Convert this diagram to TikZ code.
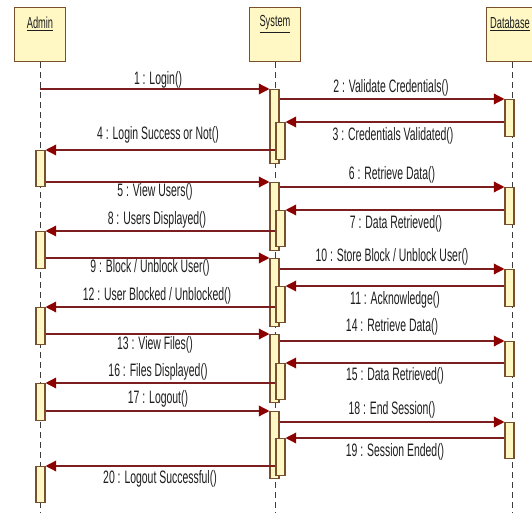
\documentclass[tikz,border=0pt]{standalone}
\usepackage{fontspec}
\setmainfont{Liberation Sans}[FakeStretch=0.58]
\usetikzlibrary{arrows.meta}
\definecolor{boxfill}{RGB}{255,248,196}
\definecolor{boxdraw}{RGB}{120,80,45}
\definecolor{msgc}{RGB}{125,30,30}
\definecolor{headc}{RGB}{140,0,0}
\definecolor{lifec}{RGB}{60,60,60}
\definecolor{txtc}{RGB}{30,30,30}
\begin{document}
\begin{tikzpicture}[x=0.75pt,y=-0.75pt,
  headbox/.style={draw=boxdraw,fill=boxfill,line width=1pt,minimum width=51*0.75pt,minimum height=54*0.75pt,anchor=north,inner sep=0pt},
  headtxt/.style={font=\fontsize{12}{14}\selectfont,text=txtc,inner sep=0pt},
  life/.style={draw=lifec,line width=0.6pt,dash pattern=on 4.5pt off 3pt},
  actbox/.style={draw=boxdraw,fill=boxfill,line width=0.8pt,minimum width=9*0.75pt,anchor=north,inner sep=0pt},
  msg/.style={draw=msgc,line width=1pt,-{Triangle[length=8pt,width=8pt,fill=headc,color=headc]}},
  lbl/.style={font=\fontsize{13.5}{15}\selectfont,text=txtc,inner sep=0pt}]
\useasboundingbox (0,0) rectangle (532,513);
\clip (0,0) rectangle (532,513);
\fill[white] (0,0) rectangle (532,513);
% heads
\node[headbox] (admin) at (40,7) {};
\node[headbox] (system) at (275,7) {};
\node[headbox] (db) at (512,7) {};
\node[headtxt] at (40,24) {\underline{Admin}};
\node[headtxt] at (275,24) {\underline{System}};
\node[headtxt] at (510,24) {\underline{Database}};
% lifelines
\coordinate (adminend) at (40,513);
\coordinate (sysend) at (275.5,513);
\coordinate (dbend) at (512,513);
\draw[life] (admin.south) -- (adminend);
\draw[life] ([xshift=0.5*0.75pt]system.south) -- (sysend);
\draw[life] (db.south) -- (dbend);
% activations Admin
\node[actbox,minimum height=36*0.75pt] (A1) at (40.5,150) {};
\node[actbox,minimum height=37*0.75pt] (A2) at (40.5,231) {};
\node[actbox,minimum height=37*0.75pt] (A3) at (40.5,307) {};
\node[actbox,minimum height=37*0.75pt] (A4) at (40.5,383) {};
\node[actbox,minimum height=36*0.75pt] (A5) at (40.5,466) {};
% activations System
\node[actbox,minimum height=74*0.75pt] (S1) at (274.5,89) {};
\node[actbox,minimum height=37*0.75pt] (S1n) at (280.5,122) {};
\node[actbox,minimum height=68*0.75pt] (S2) at (274.5,182) {};
\node[actbox,minimum height=36*0.75pt] (S2n) at (280.5,210) {};
\node[actbox,minimum height=68*0.75pt] (S3) at (274.5,258) {};
\node[actbox,minimum height=36*0.75pt] (S3n) at (280.5,286) {};
\node[actbox,minimum height=68*0.75pt] (S4) at (274.5,334) {};
\node[actbox,minimum height=36*0.75pt] (S4n) at (280.5,363) {};
\node[actbox,minimum height=67*0.75pt] (S5) at (274.5,411) {};
\node[actbox,minimum height=37*0.75pt] (S5n) at (280.5,438) {};
% activations Database
\node[actbox,minimum height=37*0.75pt] (D1) at (509.5,99) {};
\node[actbox,minimum height=37*0.75pt] (D2) at (509.5,187) {};
\node[actbox,minimum height=37*0.75pt] (D3) at (509.5,269) {};
\node[actbox,minimum height=35*0.75pt] (D4) at (509.5,341) {};
\node[actbox,minimum height=36*0.75pt] (D5) at (509.5,422) {};
% messages
\draw[msg] (admin.south |- S1.north) -- (S1.north west);
\draw[msg] (S1.east |- D1.north) -- (D1.north west);
\draw[msg] (D1.west |- S1n.north) -- (S1n.north east);
\draw[msg] (S1n.west |- A1.north) -- (A1.north east);
\draw[msg] (A1.east |- S2.north) -- (S2.north west);
\draw[msg] (S2.east |- D2.north) -- (D2.north west);
\draw[msg] (D2.west |- S2n.north) -- (S2n.north east);
\draw[msg] (S2n.west |- A2.north) -- (A2.north east);
\draw[msg] (A2.east |- S3.north) -- (S3.north west);
\draw[msg] (S3.east |- D3.north) -- (D3.north west);
\draw[msg] (D3.west |- S3n.north) -- (S3n.north east);
\draw[msg] (S3n.west |- A3.north) -- (A3.north east);
\draw[msg] (A3.east |- S4.north) -- (S4.north west);
\draw[msg] (S4.east |- D4.north) -- (D4.north west);
\draw[msg] (D4.west |- S4n.north) -- (S4n.north east);
\draw[msg] (S4n.west |- A4.north) -- (A4.north east);
\draw[msg] (A4.east |- S5.north) -- (S5.north west);
\draw[msg] (S5.east |- D5.north) -- (D5.north west);
\draw[msg] (D5.west |- S5n.north) -- (S5n.north east);
\draw[msg] (S5n.west |- A5.north) -- (A5.north east);
% labels
\node[lbl] (l1) at (158,80) {1 : Login()};
\node[lbl] (l2) at (391,88) {2 : Validate Credentials()};
\node[lbl] (l3) at (393,136) {3 : Credentials Validated()};
\node[lbl] (l4) at (158,135) {4 : Login Success or Not()};
\node[lbl] (l5) at (155,192) {5 : View Users()};
\node[lbl] (l6) at (392,175) {6 : Retrieve Data()};
\node[lbl] (l7) at (396,224) {7 : Data Retrieved()};
\node[lbl] (l8) at (157,220) {8 : Users Displayed()};
\node[lbl] (l9) at (150,268) {9 : Block / Unblock User()};
\node[lbl] (l10) at (392,257) {10 : Store Block / Unblock User()};
\node[lbl] (l11) at (395,300) {11 : Acknowledge()};
\node[lbl] (l12) at (157,296) {12 : User Blocked / Unblocked()};
\node[lbl] (l13) at (155,345) {13 : View Files()};
\node[lbl] (l14) at (392,327) {14 : Retrieve Data()};
\node[lbl] (l15) at (395,376) {15 : Data Retrieved()};
\node[lbl] (l16) at (158,372) {16 : Files Displayed()};
\node[lbl] (l17) at (158,399) {17 : Logout()};
\node[lbl] (l18) at (392,410) {18 : End Session()};
\node[lbl] (l19) at (395,452) {19 : Session Ended()};
\node[lbl] (l20) at (160,479) {20 : Logout Successful()};
\end{tikzpicture}
\end{document}
